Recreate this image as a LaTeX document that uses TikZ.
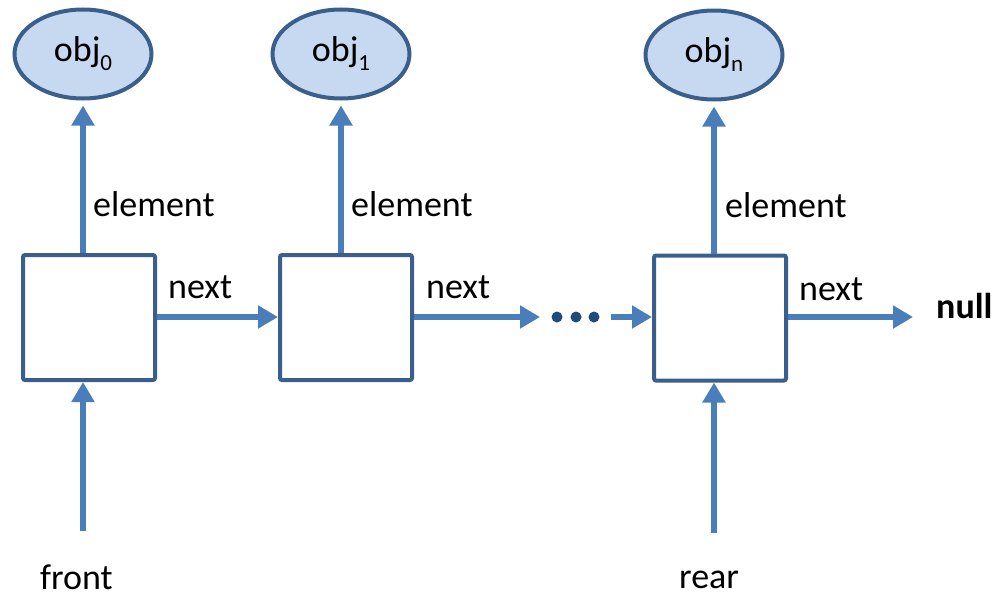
\documentclass[tikz,border=0pt]{standalone}
\usepackage{fontspec}
\setmainfont{Carlito}
\usetikzlibrary{arrows.meta,shapes.geometric}
\definecolor{arrowblue}{HTML}{4A7EBB}
\definecolor{boxblue}{HTML}{3B5F8C}
\definecolor{fillblue}{HTML}{C6D9F1}
\definecolor{dotblue}{HTML}{1F4A7C}
\tikzset{
  listbox/.style={draw=boxblue, line width=4pt, rounded corners=2pt, fill=white,
    minimum width=132pt, minimum height=125pt, inner sep=0pt},
  objnode/.style={ellipse, draw=boxblue, line width=4pt, fill=fillblue,
    minimum width=137pt, minimum height=89pt, inner sep=0pt},
  link/.style={draw=arrowblue, line width=6pt, -{Triangle[length=20pt,width=22pt]}},
  lbl/.style={inner sep=0pt, anchor=base west, font=\fontsize{36}{43}\selectfont},
  dotc/.style={circle, fill=dotblue, minimum size=11pt, inner sep=0pt},
}
\newcommand{\objsub}[1]{obj\raisebox{-0.25em}{\fontsize{23}{23}\selectfont #1}}
\begin{document}
\begin{tikzpicture}[x=1pt,y=-1pt]
\useasboundingbox (0,0) rectangle (998,597);
% objects
\node[objnode, font=\fontsize{36}{43}\selectfont] (e0) at (83,54) {\objsub{0}};
\node[objnode, font=\fontsize{36}{43}\selectfont] (e1) at (341,54) {\objsub{1}};
\node[objnode, font=\fontsize{36}{43}\selectfont] (en) at (714,55) {\objsub{n}};
% boxes
\node[listbox] (b0) at (89,317.5) {};
\node[listbox] (b1) at (346,317.5) {};
\node[listbox] (bn) at (720,318) {};
% element arrows
\draw[link, shorten >=5pt] (e0.south |- b0.north) -- (e0.south);
\draw[link, shorten >=5pt] (e1.south |- b1.north) -- (e1.south);
\draw[link, shorten >=5pt] (en.south |- bn.north) -- (en.south);
\node[lbl] (el0) at (93,216) {element};
\node[lbl] (el1) at (351,216) {element};
\node[lbl] (eln) at (725,217) {element};
% next arrows
\coordinate (p0) at (b0.east |- 0,317);
\coordinate (p1) at (b1.west |- 0,317);
\draw[link] (p0) -- (p1);
\coordinate (p2) at (b1.east |- 0,317);
\coordinate (d1) at (540,317);
\draw[link] (p2) -- (d1);
\node[dotc] (dot1) at (557,317) {};
\node[dotc] (dot2) at (576,317) {};
\node[dotc] (dot3) at (594,317) {};
\coordinate (d2) at (611,317);
\coordinate (p3) at (bn.west |- 0,317);
\draw[link] (d2) -- (p3);
\coordinate (p4) at (bn.east |- 0,317);
\coordinate (nulltip) at (913,317);
\draw[link] (p4) -- (nulltip);
\node[lbl] (nx0) at (168,298) {next};
\node[lbl] (nx1) at (426,298) {next};
\node[lbl] (nxn) at (799,300) {next};
\node[lbl, font=\fontsize{36}{43}\selectfont\bfseries] (null) at (936,318) {null};
% front / rear
\coordinate (fr) at (83,531);
\draw[link] (fr) -- (fr |- b0.south);
\coordinate (rr) at (714,533);
\draw[link] (rr) -- (rr |- bn.south);
\node[lbl] (front) at (40,589) {front};
\node[lbl] (rear) at (679,588) {rear};
\end{tikzpicture}
\end{document}
